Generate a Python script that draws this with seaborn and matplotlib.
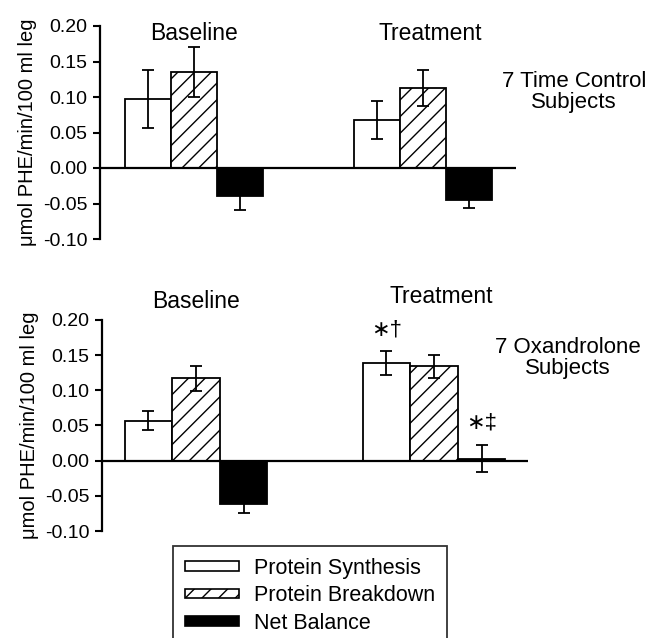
import matplotlib

matplotlib.use("Agg")
import matplotlib.pyplot as plt
import pandas as pd
import seaborn as sns
from matplotlib.patches import Patch
from matplotlib.ticker import FormatStrFormatter

# Values (umol PHE/min/100 ml leg), mean and SE
periods = ["Baseline", "Treatment"]
measures = ["Protein Synthesis", "Protein Breakdown", "Net Balance"]

control_synthesis = [0.097, 0.068]
control_breakdown = [0.135, 0.113]
control_net = [-0.039, -0.045]
control_synthesis_se = [0.041, 0.027]
control_breakdown_se = [0.035, 0.025]
control_net_se = [0.020, 0.011]

oxandrolone_synthesis = [0.057, 0.139]
oxandrolone_breakdown = [0.117, 0.134]
oxandrolone_net = [-0.061, 0.003]
oxandrolone_synthesis_se = [0.014, 0.017]
oxandrolone_breakdown_se = [0.018, 0.016]
oxandrolone_net_se = [0.013, 0.019]

yticks = [-0.10, -0.05, 0.00, 0.05, 0.10, 0.15, 0.20]
ylabel = "μmol PHE/min/100 ml leg"

sns.set_style("ticks")
plt.rcParams["font.family"] = ["Liberation Sans", "DejaVu Sans"]
plt.rcParams["axes.unicode_minus"] = False
plt.rcParams["hatch.linewidth"] = 1.0
for key in ["text.color", "axes.labelcolor", "xtick.color", "ytick.color", "axes.edgecolor"]:
    plt.rcParams[key] = "black"

palette = {"Protein Synthesis": "white", "Protein Breakdown": "white", "Net Balance": "black"}
hatches = ["", "//", ""]


def make_frame(synth, brk, net):
    rows = []
    for i, p in enumerate(periods):
        rows.append((p, measures[0], synth[i]))
        rows.append((p, measures[1], brk[i]))
        rows.append((p, measures[2], net[i]))
    return pd.DataFrame(rows, columns=["period", "measure", "value"])


def draw_panel(ax, df, errs, xlim, title_y):
    sns.barplot(
        data=df, x="period", y="value", hue="measure", hue_order=measures,
        order=periods, palette=palette, edgecolor="black", linewidth=1.3,
        width=0.6, errorbar=None, legend=False, ax=ax, saturation=1,
    )
    for cont, hatch, err in zip(ax.containers, hatches, errs):
        xs, ys = [], []
        for bar in cont:
            bar.set_hatch(hatch)
            xs.append(bar.get_x() + bar.get_width() / 2)
            ys.append(bar.get_height())
        ax.errorbar(xs, ys, yerr=err, fmt="none", ecolor="black",
                    elinewidth=1.3, capsize=4.5, capthick=1.3, zorder=3)
    ax.axhline(0, color="black", lw=1.6, zorder=4)
    ax.set_xlim(*xlim)
    ax.set_ylim(-0.10, 0.20)
    ax.set_yticks(yticks)
    ax.yaxis.set_major_formatter(FormatStrFormatter("%.2f"))
    ax.tick_params(axis="y", labelsize=14, width=1.5, length=5, pad=4)
    ax.set_xticks([])
    ax.set_xlabel("")
    ax.set_ylabel(ylabel, fontsize=14.5, labelpad=4)
    sns.despine(ax=ax, bottom=True)
    ax.spines["left"].set_linewidth(1.6)
    for i, p in enumerate(periods):
        ax.text(i + (0.03 if i else 0), title_y[i], p, ha="center", va="center",
                fontsize=16.5)


fig = plt.figure(figsize=(6.5, 6.38), dpi=100)
ax1 = fig.add_axes([100 / 650, 1 - 239 / 638, 416 / 650, 213 / 638])
ax2 = fig.add_axes([102 / 650, 1 - 531 / 638, 426 / 650, 211 / 638])

draw_panel(
    ax1, make_frame(control_synthesis, control_breakdown, control_net),
    [control_synthesis_se, control_breakdown_se, control_net_se],
    (-0.41, 1.406), [0.19, 0.189],
)
draw_panel(
    ax2, make_frame(oxandrolone_synthesis, oxandrolone_breakdown, oxandrolone_net),
    [oxandrolone_synthesis_se, oxandrolone_breakdown_se, oxandrolone_net_se],
    (-0.395, 1.395), [0.227, 0.234],
)

# significance marks
ax2.text(0.8, 0.186, "∗†", ha="center", va="center", fontsize=16)
ax2.text(1.2, 0.054, "∗‡", ha="center", va="center", fontsize=16)

fig.text(574 / 650, 1 - 92 / 638, "7 Time Control\nSubjects", ha="center",
         va="center", fontsize=16, linespacing=1.05)
fig.text(568 / 650, 1 - 358 / 638, "7 Oxandrolone\nSubjects", ha="center",
         va="center", fontsize=16, linespacing=1.05)

handles = [Patch(facecolor=palette[m], edgecolor="black", hatch=h, lw=1.2)
           for m, h in zip(measures, hatches)]
leg = fig.legend(
    handles, measures, loc="upper left", bbox_to_anchor=(173 / 650, 1 - 546 / 638),
    fontsize=15.5, frameon=True, fancybox=False, edgecolor="black",
    handlelength=2.5, handleheight=0.3, labelspacing=0.3, borderpad=0.55,
    handletextpad=0.7, borderaxespad=0,
)
leg.get_frame().set_linewidth(1.3)

fig.savefig("out.png", dpi=100)
